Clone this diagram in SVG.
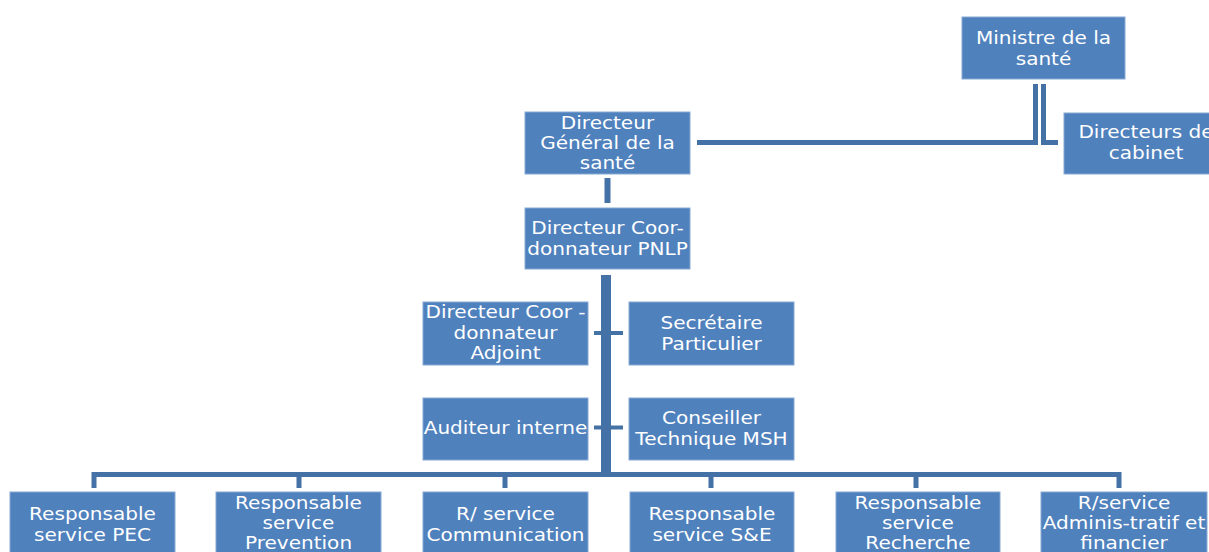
<svg xmlns="http://www.w3.org/2000/svg" width="1209" height="552" viewBox="0 0 1209 552">
<style>
.box{fill:#4f81bd;stroke:#87a9d4;stroke-width:1}
.t{font-family:"DejaVu Sans",sans-serif;font-size:17px;fill:#ffffff;text-anchor:middle}
.c{fill:none;stroke:#4471a6;stroke-linecap:butt;stroke-linejoin:miter}
</style>
<rect width="1209" height="552" fill="#ffffff"/>
<g id="connectors">
  <path class="c" stroke-width="5" d="M1035.5,84 V142.5 H697"/>
  <path class="c" stroke-width="5" d="M1043.5,84 V142.5 H1058"/>
  <path class="c" stroke-width="6" d="M607.5,178 V203"/>
  <path class="c" stroke-width="10" d="M606,275 V476"/>
  <path class="c" stroke-width="4" d="M594,333 H623"/>
  <path class="c" stroke-width="4" d="M594,427.5 H623"/>
  <path class="c" stroke-width="5" d="M94,488 V474.5 H1119 V488"/>
  <path class="c" stroke-width="5" d="M299,474 V488 M505,474 V488 M711,474 V488 M916,474 V488"/>
</g>
<g id="ministre">
  <rect class="box" x="962" y="17" width="163" height="62"/>
  <text class="t" transform="translate(1043.5,44) scale(1.18,1)">Ministre de la</text>
  <text class="t" transform="translate(1043.5,65) scale(1.18,1)">santé</text>
</g>
<g id="directeurs-cabinet">
  <rect class="box" x="1064" y="113" width="164" height="61"/>
  <text class="t" transform="translate(1146,138) scale(1.18,1)">Directeurs de</text>
  <text class="t" transform="translate(1146,159) scale(1.18,1)">cabinet</text>
</g>
<g id="directeur-general">
  <rect class="box" x="525" y="112" width="165" height="62"/>
  <text class="t" transform="translate(607.5,129) scale(1.18,1)">Directeur</text>
  <text class="t" transform="translate(607.5,149) scale(1.18,1)">Général de la</text>
  <text class="t" transform="translate(607.5,169) scale(1.18,1)">santé</text>
</g>
<g id="directeur-pnlp">
  <rect class="box" x="525" y="208" width="165" height="61"/>
  <text class="t" transform="translate(607.5,234) scale(1.18,1)">Directeur Coor-</text>
  <text class="t" transform="translate(607.5,255) scale(1.18,1)">donnateur PNLP</text>
</g>
<g id="directeur-adjoint">
  <rect class="box" x="423" y="302" width="165" height="63"/>
  <text class="t" transform="translate(505.5,318) scale(1.18,1)">Directeur Coor -</text>
  <text class="t" transform="translate(505.5,339) scale(1.18,1)">donnateur</text>
  <text class="t" transform="translate(505.5,359) scale(1.18,1)">Adjoint</text>
</g>
<g id="secretaire">
  <rect class="box" x="629" y="302" width="165" height="63"/>
  <text class="t" transform="translate(711.5,329) scale(1.18,1)">Secrétaire</text>
  <text class="t" transform="translate(711.5,350) scale(1.18,1)">Particulier</text>
</g>
<g id="auditeur">
  <rect class="box" x="423" y="398" width="165" height="62"/>
  <text class="t" transform="translate(505.5,434) scale(1.18,1)">Auditeur interne</text>
</g>
<g id="conseiller">
  <rect class="box" x="629" y="398" width="165" height="62"/>
  <text class="t" transform="translate(711.5,424) scale(1.18,1)">Conseiller</text>
  <text class="t" transform="translate(711.5,445) scale(1.18,1)">Technique MSH</text>
</g>
<g id="service-pec">
  <rect class="box" x="10" y="492" width="165" height="62"/>
  <text class="t" transform="translate(92.5,520) scale(1.18,1)">Responsable</text>
  <text class="t" transform="translate(92.5,541) scale(1.18,1)">service PEC</text>
</g>
<g id="service-prevention">
  <rect class="box" x="216" y="492" width="165" height="62"/>
  <text class="t" transform="translate(298.5,509) scale(1.18,1)">Responsable</text>
  <text class="t" transform="translate(298.5,529) scale(1.18,1)">service</text>
  <text class="t" transform="translate(298.5,549) scale(1.18,1)">Prevention</text>
</g>
<g id="service-communication">
  <rect class="box" x="423" y="492" width="165" height="62"/>
  <text class="t" transform="translate(505.5,520) scale(1.18,1)">R/ service</text>
  <text class="t" transform="translate(505.5,541) scale(1.18,1)">Communication</text>
</g>
<g id="service-se">
  <rect class="box" x="630" y="492" width="164" height="62"/>
  <text class="t" transform="translate(712,520) scale(1.18,1)">Responsable</text>
  <text class="t" transform="translate(712,541) scale(1.18,1)">service S&amp;E</text>
</g>
<g id="service-recherche">
  <rect class="box" x="836" y="492" width="164" height="62"/>
  <text class="t" transform="translate(918,509) scale(1.18,1)">Responsable</text>
  <text class="t" transform="translate(918,529) scale(1.18,1)">service</text>
  <text class="t" transform="translate(918,549) scale(1.18,1)">Recherche</text>
</g>
<g id="service-administratif">
  <rect class="box" x="1041" y="492" width="166" height="62"/>
  <text class="t" transform="translate(1124,509) scale(1.18,1)">R/service</text>
  <text class="t" transform="translate(1124,529) scale(1.18,1)">Adminis-tratif et</text>
  <text class="t" transform="translate(1124,549) scale(1.18,1)">financier</text>
</g>
</svg>
